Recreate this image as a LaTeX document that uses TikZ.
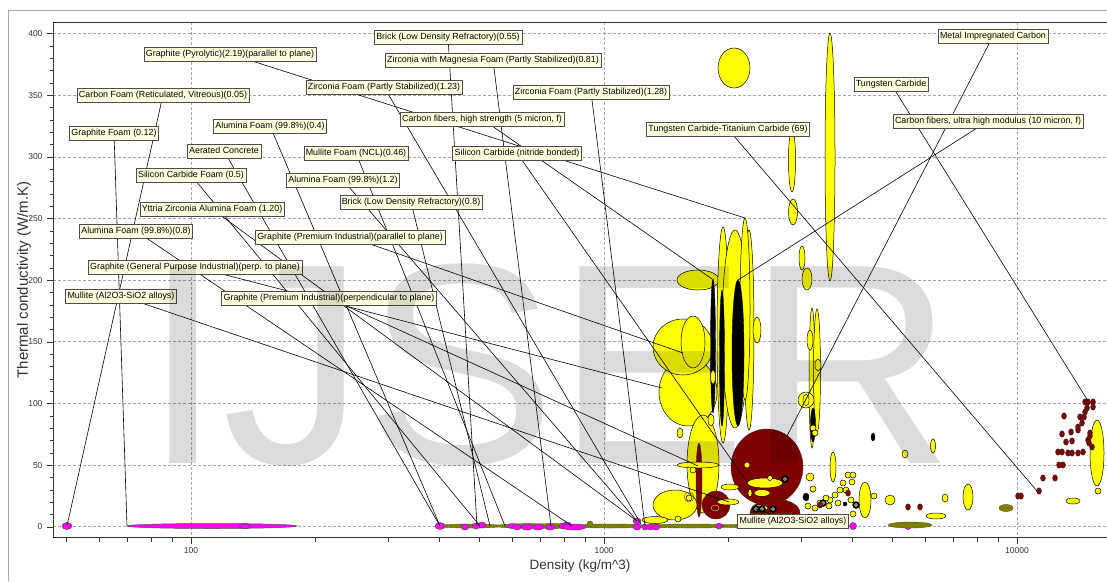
\documentclass[tikz,border=0pt]{standalone}
\usepackage{fontspec}
\setmainfont{Liberation Sans}
\definecolor{tipfill}{RGB}{255,255,225}
\definecolor{foamc}{RGB}{255,0,255}
\definecolor{ceramc}{RGB}{255,255,0}
\definecolor{metalc}{RGB}{128,0,0}
\definecolor{olivec}{RGB}{128,128,0}
\definecolor{gridc}{RGB}{165,165,165}
\pgfdeclarelayer{grid}
\pgfdeclarelayer{bubbles}
\pgfdeclarelayer{leaders}
\pgfdeclarelayer{mark}
\pgfsetlayers{grid,bubbles,leaders,main,mark}

\tikzset{
  tip/.style={draw=black!70, fill=tipfill, font=\fontsize{8.9}{10}\selectfont,
    inner xsep=2pt, inner ysep=2.5pt, text height=7pt, text depth=2pt},
  lead/.style={black, line width=0.6pt},
  gridln/.style={gridc, line width=0.7pt, dash pattern=on 2.5pt off 2.5pt},
  yb/.style={draw=black, line width=0.5pt, fill=ceramc},
  mb/.style={draw=black!70, line width=0.5pt, fill=foamc},
  rb/.style={draw=black!80, line width=0.4pt, fill=metalc},
  ob/.style={draw=olivec!70!black, line width=0.4pt, fill=olivec},
  kb/.style={draw=black, fill=black},
  tick/.style={font=\fontsize{8.5}{10}\selectfont, text=black!80}
}

\begin{document}
\begin{tikzpicture}[x=1pt,y=-1pt]
\useasboundingbox (0,0) rectangle (1107,581);

% grid and axes
\begin{pgfonlayer}{grid}
\fill[white] (0,0) rectangle (1107,581);
\draw[black!35, line width=0.8pt] (8,581) -- (8,10) -- (1107,10);
\foreach \v in {0,50,...,400}
  \draw[gridln] (53,526.7-1.2327*\v) -- (1107,526.7-1.2327*\v);
\foreach \d in {100,1000,10000}
  \draw[gridln] ({191+413*log10(\d/100)},22) -- ({191+413*log10(\d/100)},537);
\end{pgfonlayer}
\draw[black!80, line width=0.8pt] (1107,22) -- (53,22) -- (53,537) -- (1107,537);
\foreach \v in {0,10,...,400}
  \draw[black!80] (50,526.7-1.2327*\v) -- (53,526.7-1.2327*\v);
\foreach \v in {0,50,...,400} {
  \draw[black!80] (47,526.7-1.2327*\v) -- (53,526.7-1.2327*\v);
  \node[tick, anchor=east] (yl\v) at (46,526.7-1.2327*\v) {\v};
}
\foreach \d in {50,60,70,80,90,200,300,400,500,600,700,800,900,2000,3000,4000,5000,6000,7000,8000,9000}
  \draw[black!80] ({191+413*log10(\d/100)},537) -- ({191+413*log10(\d/100)},542);
\foreach \d in {100,1000,10000} {
  \draw[black!80] ({191+413*log10(\d/100)},537) -- ({191+413*log10(\d/100)},544);
  \node[tick] (xl\d) at ({191+413*log10(\d/100)},551) {\d};
}
\node[font=\fontsize{13.5}{15}\selectfont, text=black!80] (xtitle) at (580,566) {Density (kg/m\^{}3)};
\node[font=\fontsize{15}{16}\selectfont, text=black!80, rotate=90] (ytitle) at (24,280) {Thermal conductivity (W/m.K)};

% data
\begin{pgfonlayer}{bubbles}
% foams
\fill[mb] (212,526) ellipse (85 and 2.5);
\fill[mb] (245,526) ellipse (6 and 2.5);
\fill[mb] (67,526) ellipse (5 and 3.5);
\fill[ob] (470,526) ellipse (32 and 2);
\fill[ob] (540,526) ellipse (45 and 2.5);
\fill[ob] (610,526) ellipse (40 and 2);
\fill[ob] (690,526) ellipse (45 and 2);
\fill[ob] (760,526) ellipse (40 and 2);
\fill[ob] (590,524) circle (3);
\foreach \x/\y/\rx/\ry in {440/526/5/3.5, 465/527/4/3, 476/526/4/3, 482/525/4/3, 512/526/5/2.5,
  517/527/4/3, 527/527/6/3, 538/527/6/3, 550/527/5/3, 563/526/4/3, 567/524/4/2, 574/527/12/3,
  637/521/4/3, 637/527/4/3, 645/527/3/3, 650/527/4/3, 656/527/4/3, 719/526/3/3, 853/526/3.5/3.5, 908/526/3.5/3.5}
  \fill[mb] (\x,\y) ellipse [x radius=\rx, y radius=\ry];
% ceramics and carbons
\fill[yb] (734,68) ellipse (16 and 20);
\fill[yb] (830,157) ellipse (5 and 124);
\fill[yb] (792,160) ellipse (3.5 and 32);
\fill[yb] (793,212) ellipse (4.5 and 13);
\fill[yb] (802,258) ellipse (3 and 12);
\fill[yb] (807,279) ellipse (5 and 11);
\fill[yb] (698,280) ellipse (21 and 10);
\fill[yb] (688,392) ellipse (29 and 34);
\fill[yb] (683,347) ellipse (30 and 28);
\fill[yb] (693,342) ellipse (12 and 26);
\fill[yb] (703,464) ellipse (16 and 49);
\fill[yb] (723,335) ellipse (6 and 108);
\fill[yb] (749,330) ellipse (5 and 100);
\fill[yb] (735,329) ellipse (13 and 99);
\fill[yb] (745,309) ellipse (5 and 91);
\fill[kb] (738,353) ellipse (6 and 73);
\fill[kb] (713,346) ellipse (2.5 and 67);
\fill[kb] (722,358) ellipse (2.5 and 68);
\fill[yb] (757,330) ellipse (4 and 13);
\fill[yb] (713,377) ellipse (2.5 and 7);
\fill[yb] (680,433) ellipse (3 and 5);
\fill[yb] (711,420) ellipse (3 and 6);
\fill[rb] (767,467) ellipse (36 and 38);
\fill[rb] (775,513) ellipse (25 and 14);
\fill[rb] (699,480) ellipse (3 and 37);
\fill[yb] (698,465) ellipse (21 and 3);
\fill[yb] (693,470) circle (3);
\fill[yb] (675,505) ellipse (22 and 15);
\draw[black!70] (689,497) circle (5);
\fill[yb] (689,498) circle (3);
\fill[rb] (716,505) circle (14);
\draw[white!80!black] (715,508) ellipse (4 and 3);
\fill[yb] (765,483) ellipse (18 and 5);
\fill[yb] (762,493) ellipse (8 and 3.5);
\fill[yb] (747,465) circle (3);
\fill[yb] (770,478) circle (2.5);
\fill[yb] (730,487) ellipse (9 and 3);
\fill[yb] (728,502) ellipse (11 and 3);
\fill[yb] (750,493) ellipse (2 and 4);
\fill[yb] (655,520) ellipse (13 and 3.5);
\fill[yb] (678,519) circle (3);
\fill[yb] (760,508) ellipse (8 and 3);
\fill[yb] (812,378) ellipse (3 and 70);
\fill[yb] (817,371) ellipse (3.5 and 62);
\fill[yb] (806,400) circle (8);
\draw[black] (806,400) ellipse (3 and 6);
\fill[yb] (810,340) ellipse (3 and 10);
\fill[yb] (818,365) ellipse (3 and 6);
\fill[kb] (813,425) ellipse (2.5 and 17);
\fill[yb] (813,428) circle (3);
\fill[yb] (815,433) circle (3);
\fill[kb] (873,437) ellipse (2 and 4);
\fill[yb] (905,454) ellipse (3 and 4);
\fill[yb] (933,446) ellipse (2.5 and 7);
\fill[yb] (865,500) ellipse (6 and 18);
\fill[yb] (874,496) circle (3);
\fill[yb] (890,500) circle (5);
\fill[yb] (945,498) ellipse (3 and 4);
\fill[yb] (968,497) ellipse (5 and 13);
\fill[yb] (936,516) ellipse (10 and 3);
\fill[ob] (1006,508) ellipse (7 and 3.5);
\fill[ob] (910,525) ellipse (22 and 3);
\fill[yb] (1073,501) ellipse (7 and 3);
\fill[yb] (1097,453) ellipse (7 and 33);
\fill[yb] (1098,491) circle (3);
\fill[yb] (833,467) ellipse (3 and 15);
\fill[yb] (810,477) circle (4);
\foreach \x/\y in {813/489, 848/475, 852/482, 843/483, 840/490, 846/490, 835/495, 830/500,
  826/498, 820/503, 815/508, 808/506, 853/475, 851/500, 853/514, 829/506, 838/503}
  \fill[yb] (\x,\y) circle (3);
\foreach \x/\y in {823/503, 856/505, 756/509, 762/509, 773/509, 785/479}
  {\fill[kb] (\x,\y) circle (3.5); \draw[white] (\x,\y) circle (1.5);}
\fill[kb] (806,497) ellipse (3 and 4);
\fill[kb] (845,504) circle (2);
% metals
\foreach \x/\y in {908/507, 920/507, 1018/496, 1021/496, 1039/491, 1043/478, 1055/478, 1059/465,
  1063/465, 1058/452, 1062/452, 1068/453, 1072/453, 1078/453, 1083/452, 1066/442, 1072/441,
  1062/434, 1071/432, 1088/440, 1090/433, 1089/443, 1078/427, 1082/423, 1080/417, 1084/417,
  1078/430, 1064/416, 1085/412, 1087/408, 1093/407, 1085/402, 1088/402, 1093/402, 1090/436,
  1092/447, 820/505, 848/493}
  \fill[rb] (\x,\y) ellipse (2.5 and 3.2);
\end{pgfonlayer}

% ends of the leader lines
\coordinate (p-gpyro) at (745,218);
\coordinate (p-cfoam) at (67,526);
\coordinate (p-gfoam) at (127,526);
\coordinate (p-afoam04) at (440,526);
\coordinate (p-aerated) at (440,526);
\coordinate (p-mfoam) at (505,526);
\coordinate (p-sicfoam) at (480,526);
\coordinate (p-afoam12) at (637,521);
\coordinate (p-brick08) at (490,526);
\coordinate (p-yttria) at (637,521);
\coordinate (p-gprempar) at (683,353);
\coordinate (p-ggpperp) at (662,388);
\coordinate (p-gpremperp) at (698,466);
\coordinate (p-afoam08) at (572,526);
\coordinate (p-mullite) at (729,502);
\coordinate (p-brick055) at (477,526);
\coordinate (p-zrmg) at (551,526);
\coordinate (p-zr123) at (641,524);
\coordinate (p-zr128) at (645,526);
\coordinate (p-cfhs) at (712,279);
\coordinate (p-sicnb) at (747,482);
\coordinate (p-wctic) at (1037,491);
\coordinate (p-metc) at (787,436);
\coordinate (p-wc) at (1088,401);
\coordinate (p-cfuhm) at (738,280);
\coordinate (p-mullite2) at (756,509);

% labels
\node[tip] (gpyro) at (230,54) {Graphite (Pyrolytic)(2.19)(parallel to plane)};
\node[tip] (cfoam) at (163,95) {Carbon Foam (Reticulated, Vitreous)(0.05)};
\node[tip] (gfoam) at (114,133) {Graphite Foam (0.12)};
\node[tip] (afoam04) at (270,126) {Alumina Foam (99.8\%)(0.4)};
\node[tip] (aerated) at (224,151) {Aerated Concrete};
\node[tip] (mfoam) at (356,153) {Mullite Foam (NCL)(0.46)};
\node[tip] (sicfoam) at (191,175) {Silicon Carbide Foam (0.5)};
\node[tip] (afoam12) at (343,180) {Alumina Foam (99.8\%)(1.2)};
\node[tip] (brick08) at (411,202) {Brick (Low Density Refractory)(0.8)};
\node[tip] (yttria) at (212,209) {Yttria Zirconia Alumina Foam (1.20)};
\node[tip] (gprempar) at (350,237) {Graphite (Premium Industrial)(parallel to plane)};
\node[tip] (afoam08) at (136,231) {Alumina Foam (99.8\%)(0.8)};
\node[tip] (ggpperp) at (195,267) {Graphite (General Purpose Industrial)(perp. to plane)};
\node[tip] (mullite) at (121,296) {Mullite (Al2O3-SiO2 alloys)};
\node[tip] (gpremperp) at (329,298) {Graphite (Premium Industrial)(perpendicular to plane)};
\node[tip] (brick055) at (448,37) {Brick (Low Density Refractory)(0.55)};
\node[tip] (zrmg) at (493,60) {Zirconia with Magnesia Foam (Partly Stabilized)(0.81)};
\node[tip] (zr123) at (384,87) {Zirconia Foam (Partly Stabilized)(1.23)};
\node[tip] (zr128) at (591,92) {Zirconia Foam (Partly Stabilized)(1.28)};
\node[tip] (cfhs) at (482,119) {Carbon fibers, high strength (5 micron, f)};
\node[tip] (sicnb) at (517,153) {Silicon Carbide (nitride bonded)};
\node[tip] (wctic) at (728,129) {Tungsten Carbide-Titanium Carbide (69)};
\node[tip] (metc) at (993,36) {Metal Impregnated Carbon};
\node[tip] (wc) at (891,84) {Tungsten Carbide};
\node[tip] (cfuhm) at (988,121) {Carbon fibers, ultra high modulus (10 micron, f)};
\node[tip] (mullite2) at (793,521) {Mullite (Al2O3-SiO2 alloys)};

\begin{pgfonlayer}{leaders}
\foreach \n in {gpyro,cfoam,gfoam,afoam04,aerated,mfoam,sicfoam,afoam12,brick08,yttria,
  gprempar,ggpperp,gpremperp,afoam08,mullite,brick055,zrmg,zr123,zr128,cfhs,sicnb,
  wctic,metc,wc,cfuhm,mullite2}
  \draw[lead] (\n.center) -- (p-\n);
\end{pgfonlayer}

% watermark
\begin{pgfonlayer}{mark}
\node[anchor=base west, inner sep=0pt, font=\fontsize{286}{286}\selectfont, text=black, text opacity=0.14] (mark) at (143,463) {IJSER};
\end{pgfonlayer}
\end{tikzpicture}
\end{document}
